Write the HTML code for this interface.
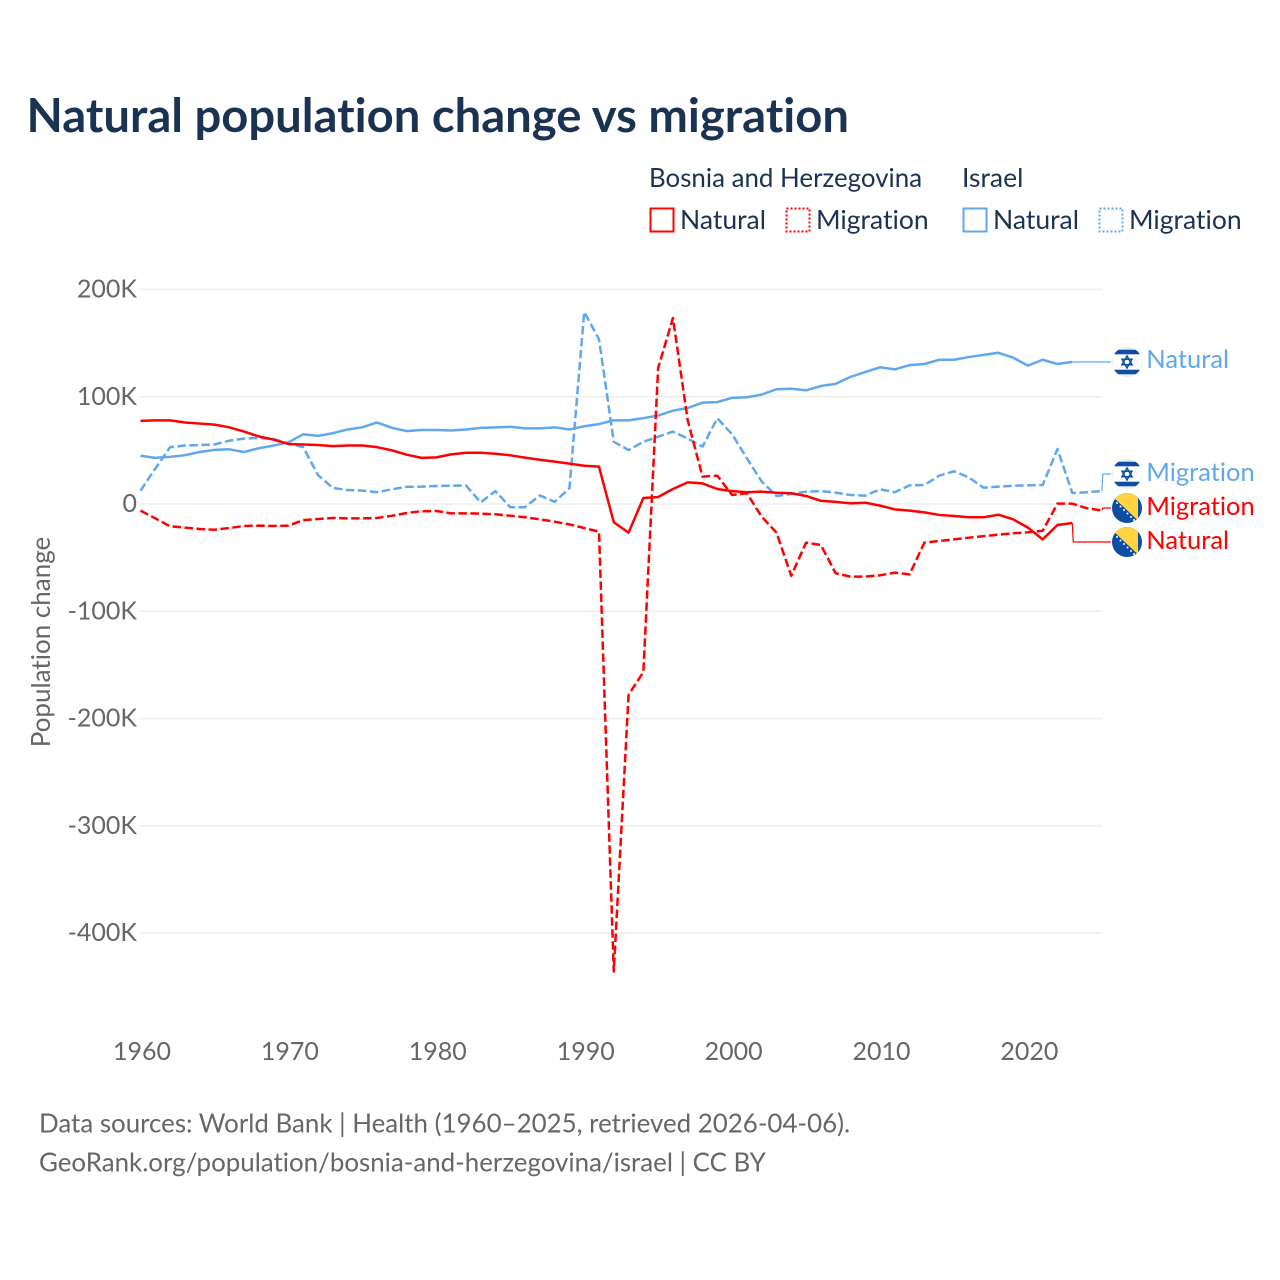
<!DOCTYPE html>
<html lang="en">
<head>
<meta charset="utf-8">
<title>Natural population change vs migration</title>
<style>
html,body{margin:0;padding:0;background:#fff;}
svg{display:block;font-family:"Lato","Carlito","Liberation Sans",sans-serif;font-variant-ligatures:none;}
.tick{font-size:25px;fill:#666;}
.axt{font-size:26px;fill:#666;}
.leg{font-size:26.5px;fill:#1a3353;}
.legh{font-size:25.9px;fill:#1a3353;}
.src{font-size:25.9px;fill:#666;}
.lab{font-size:25.5px;}
</style>
</head>
<body>
<svg id="chart" xmlns="http://www.w3.org/2000/svg" width="1280" height="1280" viewBox="0 0 1280 1280">
  <defs>
    <clipPath id="flag-clip"><circle cx="0" cy="0" r="15"/></clipPath>
    <symbol id="flag-il" overflow="visible">
      <g clip-path="url(#flag-clip)">
        <rect x="-15" y="-15" width="30" height="30" fill="#eeeeee"/>
        <rect x="-14" y="-12.5" width="28" height="25" fill="#ffffff"/>
        <rect x="-15" y="-12.3" width="30" height="4.6" fill="#0b4ea2"/>
        <rect x="-15" y="7.7" width="30" height="4.6" fill="#0b4ea2"/>
        <polygon points="0,-6 5,2.8 -5,2.8" fill="none" stroke="#0b4ea2" stroke-width="1.5"/>
        <polygon points="0,6 5,-2.8 -5,-2.8" fill="none" stroke="#0b4ea2" stroke-width="1.5"/>
      </g>
    </symbol>
    <symbol id="flag-ba" overflow="visible">
      <g clip-path="url(#flag-clip)">
        <rect x="-15" y="-15" width="30" height="30" fill="#0b4ea2"/>
        <polygon points="-15,-12 -12,-16 11,-16 11,12.5" fill="#ffd342"/>
        <g fill="#ffffff">
          <circle cx="-10" cy="-5" r="1"/><circle cx="-6.5" cy="-1.5" r="1"/><circle cx="-3" cy="2" r="1"/>
          <circle cx="0.5" cy="5.5" r="1"/><circle cx="4" cy="9" r="1"/><circle cx="7" cy="12" r="1"/>
        </g>
      </g>
    </symbol>
  </defs>

  <text x="26.5" y="132" font-size="47.2" font-weight="700" fill="#1a3353">Natural population change vs migration</text>

  <g>
    <text class="legh" x="649" y="187">Bosnia and Herzegovina</text>
    <text class="leg" x="962" y="187">Israel</text>
    <rect x="650.5" y="208.5" width="23" height="23" fill="none" stroke="#ff0000" stroke-width="2"/>
    <text class="leg" x="680" y="229">Natural</text>
    <rect x="786.5" y="208.5" width="23" height="23" fill="none" stroke="#ff0000" stroke-width="2" stroke-dasharray="2 2"/>
    <text class="leg" x="816" y="229">Migration</text>
    <rect x="963.5" y="208.5" width="23" height="23" fill="none" stroke="#5fa8ee" stroke-width="2"/>
    <text class="leg" x="993" y="229">Natural</text>
    <rect x="1099.5" y="208.5" width="23" height="23" fill="none" stroke="#5fa8ee" stroke-width="2" stroke-dasharray="2 2"/>
    <text class="leg" x="1129" y="229">Migration</text>
  </g>

  <g id="grid"></g>
  <g id="ytick-labels"></g>
  <g id="xtick-labels"></g>
  <text class="axt" transform="translate(50,642) rotate(-90)" text-anchor="middle">Population change</text>
  <g id="series"></g>

  <g>
    <use href="#flag-il" x="1127" y="362"/>
    <text class="lab" x="1146.3" y="368" fill="#5fa8ee">Natural</text>
    <use href="#flag-il" x="1127" y="474"/>
    <text class="lab" x="1146.3" y="481" fill="#5fa8ee">Migration</text>
    <use href="#flag-ba" x="1127" y="508"/>
    <text class="lab" x="1146.3" y="515" fill="#ff0000">Migration</text>
    <use href="#flag-ba" x="1127" y="542"/>
    <text class="lab" x="1146.3" y="549" fill="#ff0000">Natural</text>
  </g>

  <text class="src" x="39" y="1132.5">Data sources: World Bank | Health (1960–2025, retrieved 2026-04-06).</text>
  <text class="src" x="39" y="1171.7">GeoRank.org/population/bosnia-and-herzegovina/israel | CC BY</text>
</svg>

<script>
const startYear = 1960;
const xTicks = [1960, 1970, 1980, 1990, 2000, 2010, 2020];
const yTicks = [200, 100, 0, -100, -200, -300, -400];
const yTickLabels = ["200K", "100K", "0", "-100K", "-200K", "-300K", "-400K"];

const israelNatural = [45,43,44,45.5,48.5,50.5,51,48.5,52,54.5,57.5,65,63.5,66,69.5,71.5,76,71,68,69,69,68.5,69.5,71,71.5,72,70.5,70.5,71.5,69.5,72.5,74.5,78,78,80,82.5,87,89.5,94.5,95,99,99.5,102,107,107.5,106,110,112,118.5,123,127.5,125.5,129.5,130.5,134.5,134.5,137,139,141,136.5,129,134.5,130.5,132.5];
const israelMigration = [12.4,33,53,54.5,55,55.5,59,61,61.5,60.6,56.5,53,27,15,13,12.5,11,13.7,16,16.2,16.8,17,17.4,1.5,12,-3,-3,8,2,14.6,179,153.5,58,50.3,58,62.8,67.5,61,53.5,80,65,42.6,21,7.5,9.3,11.5,12,10.6,8.4,7.8,13.7,11,17.4,17.7,26.4,30.5,24.9,15.2,16.2,17,17.4,17.7,51.3,10.3,11,12];
const bosniaNatural = [77.5,78,78,76,75,74,71.5,67.5,63,60,56,55.5,55,54,54.5,54.5,53,50,46,43,43.5,46.3,47.8,47.8,46.9,45.4,43.2,41.3,39.5,37.6,35.7,34.8,-17,-26.7,5.6,6.5,14,20.2,19.2,14,12,11,11.5,10.5,10,7.5,3,2,0.6,1.2,-1.5,-5,-6.2,-7.8,-10.2,-11.2,-12.4,-12.4,-10,-14.3,-22,-33,-19.6,-17.7];
const bosniaMigration = [-6.2,-13.4,-20.8,-22,-23.3,-24,-22.4,-20.5,-20.2,-20.5,-20.2,-15,-14,-13,-13.4,-13.4,-13,-11,-8.4,-6.8,-6.5,-8.7,-8.7,-9,-9.6,-10.9,-12.4,-14.3,-16.5,-19,-22.4,-25.8,-436,-178,-156.6,126.8,173.4,78,25.5,26.4,8.4,10,-11.8,-26.7,-67,-36,-38.2,-64.6,-67.7,-67.7,-66.5,-64,-65.6,-36,-34.5,-33,-31.4,-30,-28.6,-27.3,-26.4,-25,0.3,0.3,-4,-6];

const SVG_NS = "http://www.w3.org/2000/svg";
function xScale(year) { return 140.5 + (year - 1960) * 14.79; }
function yScale(v) { return 504 - v * 1.0725; }

const grid = document.getElementById("grid");
const yLabels = document.getElementById("ytick-labels");
yTicks.forEach(function (t, i) {
  const ln = document.createElementNS(SVG_NS, "line");
  
  
  ln.setAttribute("x1", 140);
  ln.setAttribute("x2", 1102);
  ln.setAttribute("y1", yScale(t));
  ln.setAttribute("y2", yScale(t));
  ln.setAttribute("stroke", "#eeeeee");
  ln.setAttribute("stroke-width", "1.5");
  grid.appendChild(ln);
  const lb = document.createElementNS(SVG_NS, "text");
  
  
  lb.setAttribute("class", "tick");
  lb.setAttribute("x", 137);
  lb.setAttribute("y", yScale(t) + 8);
  lb.setAttribute("text-anchor", "end");
  lb.textContent = yTickLabels[i];
  yLabels.appendChild(lb);
});

const xLabels = document.getElementById("xtick-labels");
xTicks.forEach(function (t) {
  const lb = document.createElementNS(SVG_NS, "text");
  
  
  lb.setAttribute("class", "tick");
  lb.setAttribute("x", xScale(t) + 1.5);
  lb.setAttribute("y", 1060);
  lb.setAttribute("text-anchor", "middle");
  lb.textContent = String(t);
  xLabels.appendChild(lb);
});

const seriesGroup = document.getElementById("series");
function drawLine(values, color, dashed, labelY) {
  const pts = values.map(function (v, i) {
    return xScale(startYear + i).toFixed(2) + "," + yScale(v).toFixed(2);
  });
  const last = values.length - 1;
  const lastX = xScale(startYear + last);
  const lastY = yScale(values[last]);
  const elbowX = lastX + 1;
  const conn = document.createElementNS(SVG_NS, "polyline");
  
  
  conn.setAttribute("points", lastX + "," + lastY + " " + elbowX + "," + labelY + " 1111," + labelY);
  conn.setAttribute("fill", "none");
  conn.setAttribute("stroke", color);
  conn.setAttribute("stroke-width", "1.2");
  seriesGroup.appendChild(conn);
  const line = document.createElementNS(SVG_NS, "polyline");
  
  
  line.setAttribute("points", pts.join(" "));
  line.setAttribute("fill", "none");
  line.setAttribute("stroke", color);
  line.setAttribute("stroke-width", "2.5");
  line.setAttribute("stroke-linejoin", "round");
  if (dashed) line.setAttribute("stroke-dasharray", "8.5 3.5");
  seriesGroup.appendChild(line);
}
drawLine(israelNatural, "#5fa8ee", false, 362);
drawLine(israelMigration, "#5fa8ee", true, 474);
drawLine(bosniaNatural, "#ff0000", false, 542);
drawLine(bosniaMigration, "#ff0000", true, 508);
</script>
</body>
</html>
